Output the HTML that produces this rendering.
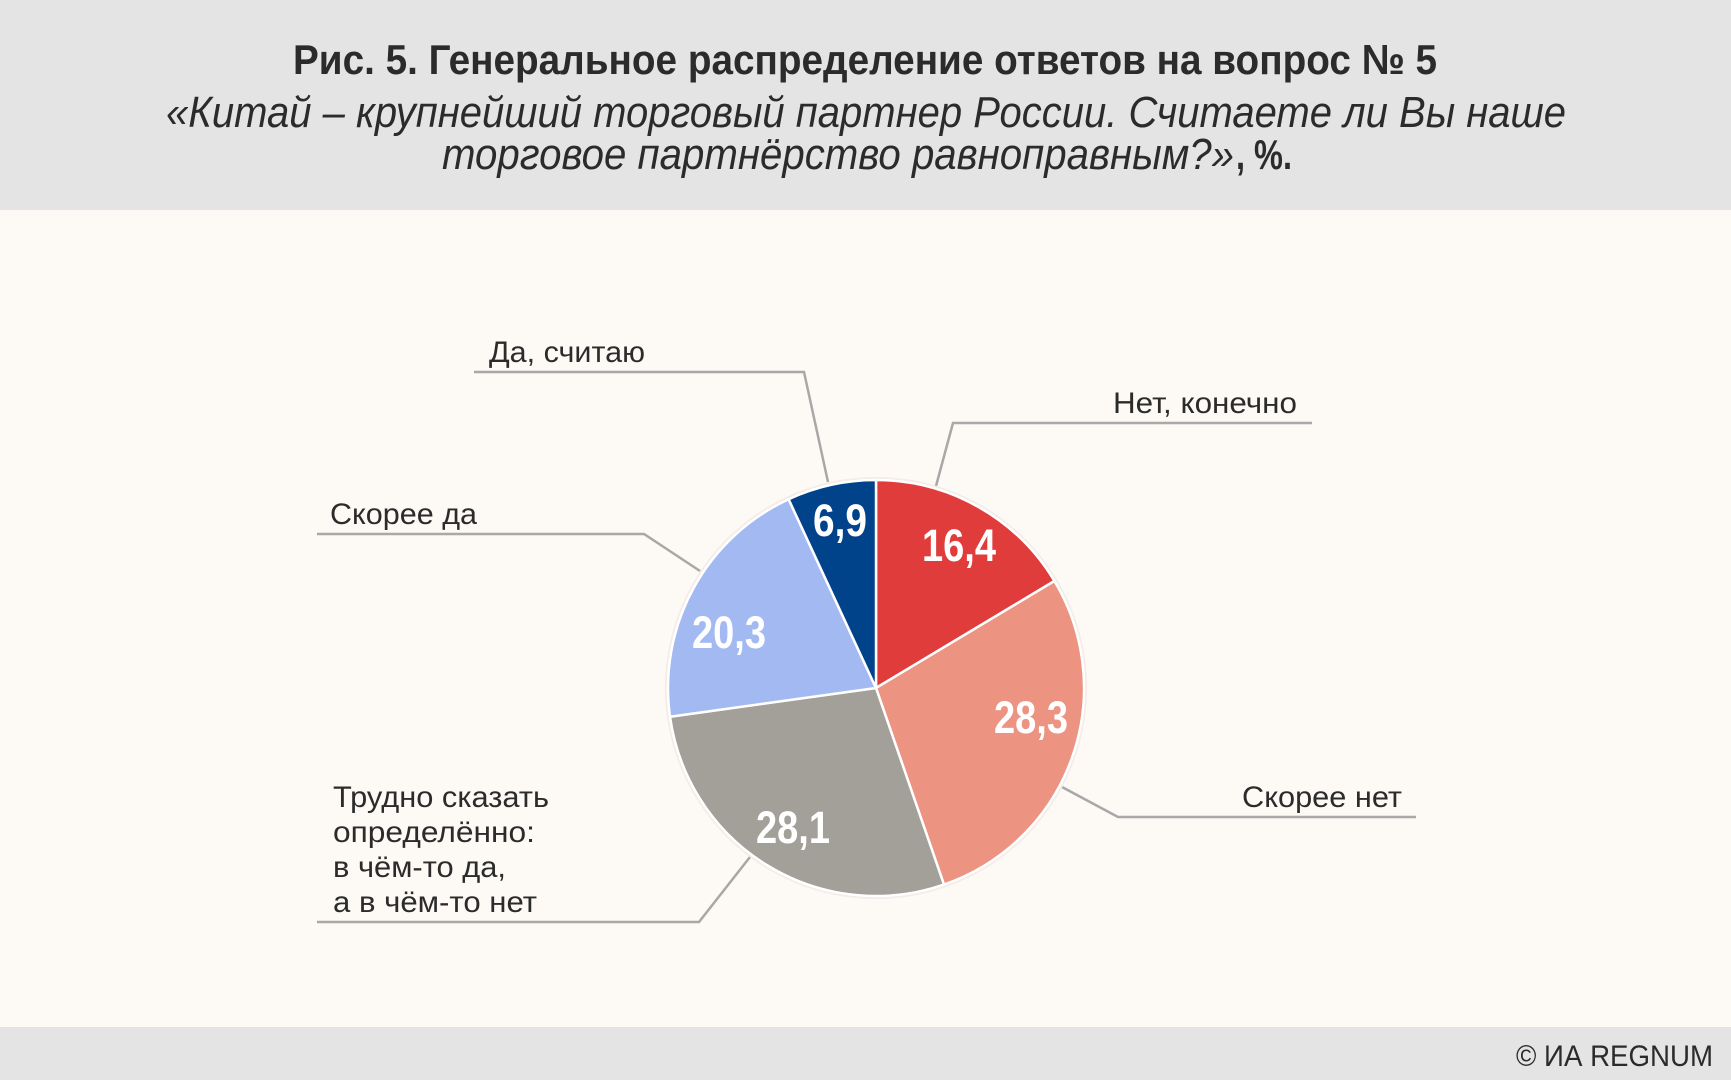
<!DOCTYPE html>
<html><head><meta charset="utf-8"><style>
html,body{margin:0;padding:0;background:#fdf9f5;}
svg{display:block;}
</style></head><body>
<svg width="1731" height="1080" viewBox="0 0 1731 1080" xmlns="http://www.w3.org/2000/svg" font-family="'Liberation Sans', sans-serif">
<rect x="0" y="0" width="1731" height="1080" fill="#fdf9f5"/>
<rect x="0" y="0" width="1731" height="210" fill="#e4e4e4"/>
<rect x="0" y="1027" width="1731" height="53" fill="#e4e4e4"/>
<text x="293" y="74" font-size="42" font-weight="bold" fill="#2b2b2b" textLength="1144" lengthAdjust="spacingAndGlyphs">Рис. 5. Генеральное распределение ответов на вопрос № 5</text>
<text x="166" y="127" font-size="44" font-style="italic" fill="#2b2b2b" textLength="1400" lengthAdjust="spacingAndGlyphs">«Китай – крупнейший торговый партнер России. Считаете ли Вы наше</text>
<text x="442" y="169" font-size="44" font-style="italic" fill="#2b2b2b" textLength="792" lengthAdjust="spacingAndGlyphs">торговое партнёрство равноправным?»</text>
<text x="1236" y="169" font-size="42" font-weight="bold" fill="#2b2b2b" textLength="56" lengthAdjust="spacingAndGlyphs">, %.</text>

<g fill="none" stroke="#a8a8a8" stroke-width="2.5">
<polyline points="474,372 804,372 828,482"/>
<polyline points="1312,423 953,423 936,486"/>
<polyline points="317,534 644,534 700,571"/>
<polyline points="1416,817 1118,817 1062,787"/>
<polyline points="317,922 699,922 750,857"/>
</g>

<circle cx="876" cy="688" r="211" fill="#f3ece8"/>
<g stroke="#ffffff" stroke-width="2.5" stroke-linejoin="round">
<path d="M876,688 L876,480 A208,208 0 0 1 1054.4,581 Z" fill="#e03c3c"/>
<path d="M876,688 L1054.4,581 A208,208 0 0 1 944,884.6 Z" fill="#ec9382"/>
<path d="M876,688 L944,884.6 A208,208 0 0 1 670,716.7 Z" fill="#a3a09a"/>
<path d="M876,688 L670,716.7 A208,208 0 0 1 788.6,499.2 Z" fill="#a3b9f2"/>
<path d="M876,688 L788.6,499.2 A208,208 0 0 1 876,480 Z" fill="#01438a"/>
</g>

<g font-size="45" font-weight="bold" fill="#ffffff" text-anchor="middle">
<text x="959" y="561" textLength="74" lengthAdjust="spacingAndGlyphs">16,4</text>
<text x="1031" y="733" textLength="74" lengthAdjust="spacingAndGlyphs">28,3</text>
<text x="793" y="843" textLength="74" lengthAdjust="spacingAndGlyphs">28,1</text>
<text x="729" y="648" textLength="74" lengthAdjust="spacingAndGlyphs">20,3</text>
<text x="840" y="536" textLength="54" lengthAdjust="spacingAndGlyphs">6,9</text>
</g>

<g font-size="30" fill="#2b2b2b">
<text x="489" y="362" textLength="156" lengthAdjust="spacingAndGlyphs">Да, считаю</text>
<text x="1113" y="413" textLength="184" lengthAdjust="spacingAndGlyphs">Нет, конечно</text>
<text x="330" y="524" textLength="147" lengthAdjust="spacingAndGlyphs">Скорее да</text>
<text x="1242" y="807" textLength="160" lengthAdjust="spacingAndGlyphs">Скорее нет</text>
<text x="333" y="807" textLength="216" lengthAdjust="spacingAndGlyphs">Трудно сказать</text>
<text x="333" y="842" textLength="202" lengthAdjust="spacingAndGlyphs">определённо:</text>
<text x="333" y="877" textLength="173" lengthAdjust="spacingAndGlyphs">в чём-то да,</text>
<text x="333" y="912" textLength="204" lengthAdjust="spacingAndGlyphs">а в чём-то нет</text>
<text x="1516" y="1066" textLength="197" lengthAdjust="spacingAndGlyphs">© ИА REGNUM</text>
</g>
</svg>
</body></html>
